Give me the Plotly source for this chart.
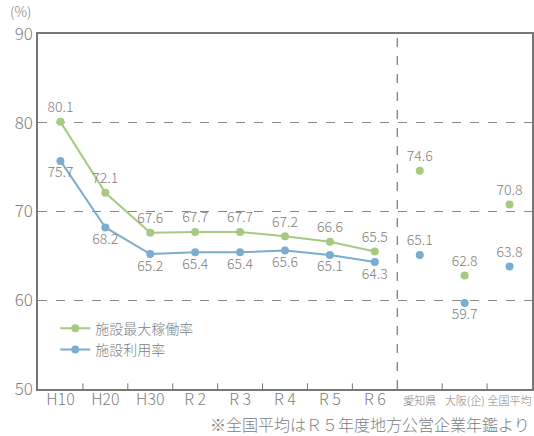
import plotly.graph_objects as go

categories = ["H10", "H20", "H30", "R2", "R3", "R4", "R5", "R6", "愛知県", "大阪(企)", "全国平均"]
tick_labels = ["H10", "H20", "H30", "R 2", "R 3", "R 4", "R 5", "R 6", "愛知県", "大阪(企)", "全国平均"]
trend_cats = categories[:8]
compare_cats = categories[8:]

max_rate_trend = [80.1, 72.1, 67.6, 67.7, 67.7, 67.2, 66.6, 65.5]
use_rate_trend = [75.7, 68.2, 65.2, 65.4, 65.4, 65.6, 65.1, 64.3]
max_rate_compare = [74.6, 62.8, 70.8]
use_rate_compare = [65.1, 59.7, 63.8]

GREEN = "#a5ca80"
BLUE = "#7badd0"
GRAY = "#808080"
FONT = "Noto Sans CJK JP"
W = 300
LBL = 14

fig = go.Figure()

fig.add_trace(go.Scatter(
    x=trend_cats, y=max_rate_trend, mode="lines+markers+text", name="施設最大稼働率",
    line=dict(color=GREEN, width=2), marker=dict(color=GREEN, size=8),
    text=[f"{v:.1f}" for v in max_rate_trend], textposition="top center",
    textfont=dict(color=GRAY, size=LBL, family=FONT, weight=W), cliponaxis=False,
))
fig.add_trace(go.Scatter(
    x=trend_cats, y=use_rate_trend, mode="lines+markers+text", name="施設利用率",
    line=dict(color=BLUE, width=2), marker=dict(color=BLUE, size=8),
    text=[f"{v:.1f}" for v in use_rate_trend],
    textposition="bottom center",
    textfont=dict(color=GRAY, size=LBL, family=FONT, weight=W), cliponaxis=False,
))
fig.add_trace(go.Scatter(
    x=compare_cats, y=max_rate_compare, mode="markers+text", showlegend=False,
    marker=dict(color=GREEN, size=8),
    text=[f"{v:.1f}" for v in max_rate_compare], textposition="top center",
    textfont=dict(color=GRAY, size=LBL, family=FONT, weight=W), cliponaxis=False,
))
fig.add_trace(go.Scatter(
    x=compare_cats, y=use_rate_compare, mode="markers+text", showlegend=False,
    marker=dict(color=BLUE, size=8),
    text=[f"{v:.1f}" for v in use_rate_compare],
    textposition=["top center", "bottom center", "top center"],
    textfont=dict(color=GRAY, size=LBL, family=FONT, weight=W), cliponaxis=False,
))

ticktext = [t if i < 8 else f"<span style='font-size:11px'>{t}</span>" for i, t in enumerate(tick_labels)]

# small inside tick marks at category boundaries (except where the dashed divider is)
n = len(categories)
split = len(trend_cats)
shapes = [dict(type="line", xref="x", yref="paper", x0=i - 0.5, x1=i - 0.5, y0=0, y1=0.016,
               line=dict(color="#777", width=1)) for i in range(1, n) if i != split]
shapes.append(dict(type="line", xref="x", yref="paper", x0=split - 0.5, x1=split - 0.5, y0=0, y1=1,
                   line=dict(color="#777", width=1.2, dash="dash")))

fig.update_layout(
    width=534, height=436,
    margin=dict(l=38, r=2, t=34, b=47, autoexpand=False),
    plot_bgcolor="white", paper_bgcolor="white",
    font=dict(family=FONT, color=GRAY, weight=W),
    xaxis=dict(
        type="category", categoryorder="array", categoryarray=categories,
        tickmode="array", tickvals=categories, ticktext=ticktext, tickangle=0,
        automargin=False, ticklabelstandoff=-5, ticks="",
        showgrid=False, showline=True, linecolor="#777", linewidth=1.5, mirror=True,
        tickfont=dict(size=16, color=GRAY, weight=W), range=[-0.5, 10.5],
    ),
    yaxis=dict(
        range=[50, 90], tickvals=[50, 60, 70, 80, 90], showgrid=True,
        gridcolor="#888", griddash="dash", gridwidth=1, automargin=False,
        showline=True, linecolor="#777", linewidth=1.5, mirror=True,
        tickfont=dict(size=17, color=GRAY, weight=W), ticks="", zeroline=False,
    ),
    legend=dict(
        x=0.035, y=0.215, xanchor="left", yanchor="top",
        font=dict(size=14, color=GRAY, weight=W), bgcolor="rgba(0,0,0,0)",
        tracegroupgap=0, itemwidth=30,
    ),
    shapes=shapes,
    annotations=[
        dict(text="(%)", xref="paper", yref="paper", x=-0.01, y=1.03, xanchor="right",
             yanchor="bottom", showarrow=False, font=dict(size=14, color=GRAY, weight=W)),
        dict(text="※全国平均はＲ５年度地方公営企業年鑑より", xref="paper", yref="paper",
             x=1.0, y=-0.06, xanchor="right", yanchor="top", showarrow=False,
             font=dict(size=16, color=GRAY, weight=W)),
    ],
)

fig.write_html("out.html")
